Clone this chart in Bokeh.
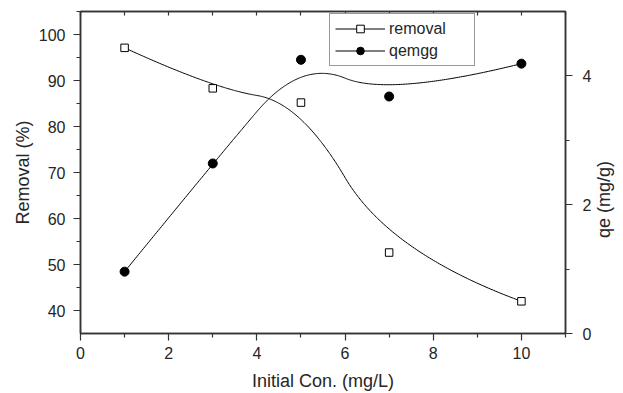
import math
import numpy as np
from bokeh.plotting import figure
from bokeh.models import Range1d, LinearAxis, FixedTicker, Legend, LegendItem, Label
from bokeh.embed import file_html
from bokeh.resources import INLINE

# ---- data ----
conc = [1, 3, 5, 7, 10]                       # Initial Con. (mg/L)
removal = [97.1, 88.3, 85.2, 52.6, 42.0]      # Removal (%)
qemgg = [0.96, 2.64, 4.25, 3.68, 4.19]        # qe (mg/g)

x_major = [0, 2, 4, 6, 8, 10]
x_minor = [1, 3, 5, 7, 9, 11]
y_major = [40, 50, 60, 70, 80, 90, 100]
y_minor = [45, 55, 65, 75, 85, 95, 105]
q_major = [0, 2, 4]
q_minor = [1, 3]
top_ticks = list(range(0, 12))

FONT = "Liberation Sans"
TXT = "#262626"
AX = "#333333"


def bspline(xs, ys, degree=2, n=300):
    """Clamped uniform B-spline using the data points as control points
    (the 'B-Spline' line connection of the original plot)."""
    P = np.column_stack([xs, ys]).astype(float)
    k = len(P)
    knots = np.concatenate([np.zeros(degree), np.linspace(0, 1, k - degree + 1), np.ones(degree)])
    ts = np.linspace(0, 1, n)
    N = np.zeros((n, len(knots) - 1))
    for i in range(len(knots) - 1):
        N[:, i] = (ts >= knots[i]) & (ts < knots[i + 1])
    spans = np.where(knots[:-1] < knots[1:])[0]
    N[ts >= knots[-1], :] = 0
    N[ts >= knots[-1], spans[-1]] = 1
    for d in range(1, degree + 1):
        Nn = np.zeros((n, len(knots) - 1 - d))
        for i in range(len(knots) - 1 - d):
            a = knots[i + d] - knots[i]
            b = knots[i + d + 1] - knots[i + 1]
            term = np.zeros(n)
            if a > 0:
                term += (ts - knots[i]) / a * N[:, i]
            if b > 0:
                term += (knots[i + d + 1] - ts) / b * N[:, i + 1]
            Nn[:, i] = term
        N = Nn
    C = N @ P
    return C[:, 0], C[:, 1]


p = figure(width=623, height=393, output_backend="svg", toolbar_location=None,
           x_range=Range1d(0, 11), y_range=Range1d(35, 105),
           min_border_left=80, min_border_right=58, min_border_top=11, min_border_bottom=59)
p.extra_y_ranges = {"qe": Range1d(0, 5)}
p.xgrid.visible = False
p.ygrid.visible = False
p.outline_line_color = AX
p.outline_line_width = 1.5
p.background_fill_color = "white"
p.border_fill_color = "white"


def style_axis(ax, major, minor, tin=0, tout=7, mout=4):
    ax.ticker = FixedTicker(ticks=major, minor_ticks=minor)
    ax.axis_line_color = AX
    ax.axis_line_width = 1.5
    ax.major_tick_line_color = AX
    ax.minor_tick_line_color = AX
    ax.major_tick_line_width = 1.2
    ax.minor_tick_line_width = 1.2
    ax.major_tick_in = tin
    ax.major_tick_out = tout
    ax.minor_tick_in = 0
    ax.minor_tick_out = mout
    ax.major_label_text_font = FONT
    ax.major_label_text_color = TXT
    ax.major_label_text_font_size = "16px"
    ax.axis_label_text_font = FONT
    ax.axis_label_text_color = TXT
    ax.axis_label_text_font_size = "18px"
    ax.axis_label_text_font_style = "normal"


style_axis(p.xaxis[0], x_major, x_minor)
p.xaxis[0].axis_label = "Initial Con. (mg/L)"
p.xaxis[0].major_label_standoff = 6
p.xaxis[0].axis_label_standoff = 9

style_axis(p.yaxis[0], y_major, y_minor)
p.yaxis[0].axis_label = "Removal (%)"
p.yaxis[0].major_label_standoff = 8
p.yaxis[0].axis_label_standoff = 3

right = LinearAxis(y_range_name="qe")
style_axis(right, q_major, q_minor)
right.major_label_standoff = 10
p.add_layout(right, "right")

# right-hand title, reading bottom-to-top, a little below the middle as in the original
p.add_layout(Label(x=9, y=134, x_units="screen", y_units="screen", text="qe (mg/g)",
                   angle=math.pi / 2, text_align="center", text_baseline="middle",
                   text_font=FONT, text_font_size="18px", text_color=TXT), "right")

# top frame edge with inward ticks, no labels
top = LinearAxis()
style_axis(top, top_ticks, [], tin=4, tout=0, mout=0)
top.major_label_text_color = None
top.major_label_text_font_size = "1px"
top.major_label_standoff = 0
p.add_layout(top, "above")

# curves (B-spline connection) and points
rx, ry = bspline(conc, removal)
qx, qy = bspline(conc, qemgg)
r_line = p.line(rx, ry, line_color="black", line_width=1)
q_line = p.line(qx, qy, line_color="black", line_width=1, y_range_name="qe")
r_pts = p.scatter(conc, removal, marker="square", size=7.5, fill_color="white",
                  line_color="black", line_width=1)
q_pts = p.scatter(conc, qemgg, marker="circle", size=9, fill_color="black",
                  line_color="black", y_range_name="qe")

legend = Legend(items=[LegendItem(label="removal", renderers=[r_line, r_pts]),
                       LegendItem(label="qemgg", renderers=[q_line, q_pts])],
                location=(249, 267), margin=0, padding=5, spacing=3,
                glyph_width=50, glyph_height=19, label_height=19, label_width=80,
                label_standoff=4,
                label_text_font=FONT, label_text_font_size="16px", label_text_color=TXT,
                border_line_color=AX, border_line_width=1.2,
                background_fill_color="white", background_fill_alpha=1)
p.add_layout(legend)

open("out.html", "w").write(file_html(p, INLINE))
